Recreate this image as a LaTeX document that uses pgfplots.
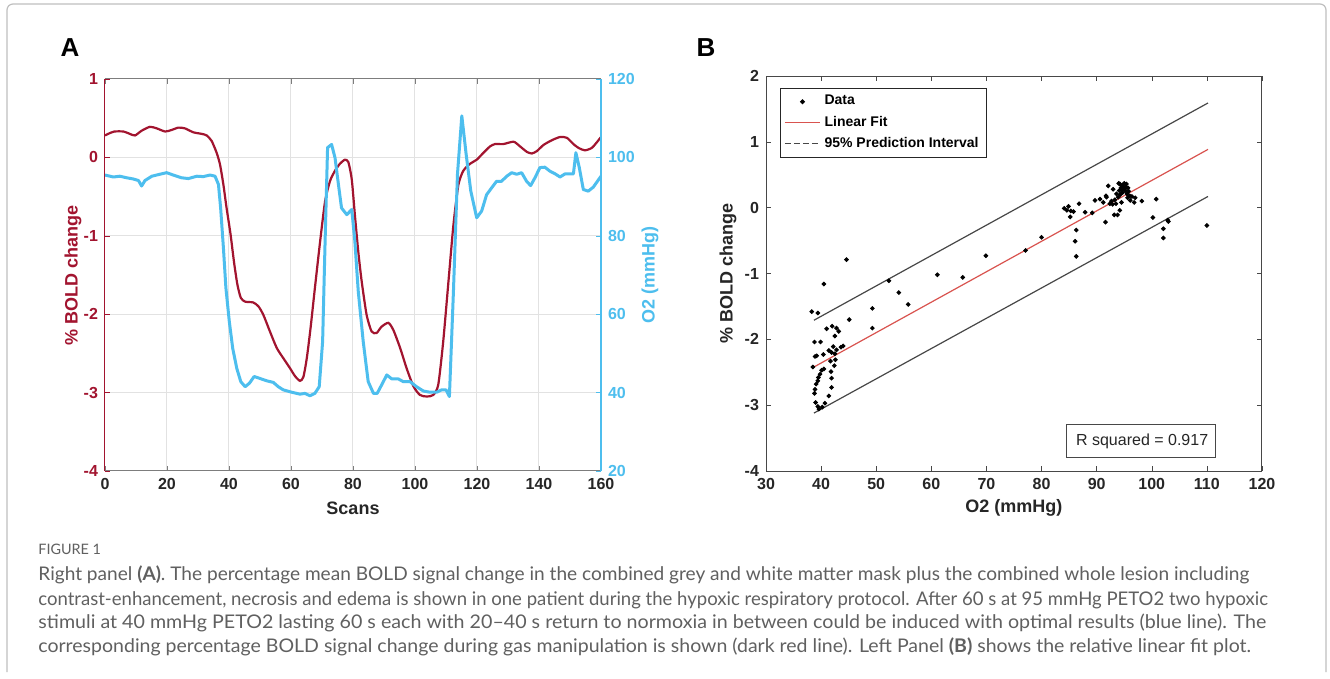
\documentclass[border=0pt]{standalone}
\usepackage{pgfplots}
\pgfplotsset{compat=1.18}
\usepackage{pgfplotstable}
\usepackage{fontspec}
\setmainfont{Liberation Sans}
\newfontfamily\capfont{Lato}
\definecolor{boldred}{HTML}{A2142F}
\definecolor{o2cyan}{HTML}{4DBEEE}
\definecolor{axgray}{HTML}{262626}
\definecolor{gridgray}{HTML}{E2E2E2}
\definecolor{fitred}{HTML}{D9534F}
\definecolor{capgray}{HTML}{606060}

\pgfplotstableread{
scan bold
0 0.28
1 0.30
3 0.33
6 0.33
8 0.30
9.7 0.28
11.8 0.34
14.5 0.39
16.7 0.37
19.4 0.33
21.5 0.35
23.7 0.38
25.8 0.37
28.5 0.32
31.2 0.30
32.8 0.28
34.4 0.21
36.0 0.06
37.1 -0.09
38.2 -0.35
39.2 -0.64
40.5 -0.98
41.6 -1.33
42.7 -1.62
43.8 -1.79
45.2 -1.84
47.8 -1.85
49.5 -1.90
51.1 -2.01
53.2 -2.22
55.4 -2.43
57.5 -2.56
59.7 -2.69
61.3 -2.79
62.9 -2.85
64.0 -2.80
65.1 -2.56
66.3 -2.18
67.7 -1.67
69.4 -1.07
71.0 -0.56
72.6 -0.30
74.2 -0.17
75.8 -0.08
77.4 -0.03
78.5 -0.06
79.6 -0.28
80.6 -0.73
81.7 -1.20
82.8 -1.58
84.4 -2.01
86.0 -2.22
87.6 -2.24
89.2 -2.16
91.4 -2.11
93.0 -2.20
95.2 -2.43
97.3 -2.69
99.5 -2.92
101.6 -3.03
103.8 -3.05
105.9 -3.03
107.5 -2.90
109.1 -2.35
110.8 -1.58
112.4 -0.86
114.0 -0.35
115.6 -0.17
117.8 -0.08
119.9 -0.03
122.1 0.06
124.2 0.14
125.8 0.17
128.5 0.17
131.8 0.20
133.9 0.14
136.1 0.07
137.7 0.05
139.3 0.08
141.5 0.16
144.2 0.22
146.8 0.26
149.0 0.25
151.1 0.17
152.8 0.12
154.8 0.09
157.0 0.12
158.6 0.19
160 0.26
}\boldtab

\pgfplotstableread{
scan o2
0 95.5
2.7 95.0
4.8 95.2
7.0 94.8
9.1 94.5
10.8 94.1
11.8 92.7
12.9 94.1
15.1 95.2
17.7 95.7
19.9 96.1
22.0 95.5
24.7 94.8
26.9 94.6
29.6 95.2
31.7 95.1
33.9 95.5
35.5 95.2
36.6 93.1
37.3 87.1
38.2 76.9
39.0 66.7
40.1 58.1
41.2 51.3
42.5 46.2
43.8 42.8
45.2 41.5
46.6 42.4
48.1 44.1
50.0 43.6
52.2 43.0
54.3 42.6
55.9 41.5
57.5 40.7
60.2 40.1
62.9 39.6
64.5 39.8
66.1 39.2
67.7 39.8
69.1 41.5
70.2 53.0
71.0 78.6
71.8 102.5
73.1 103.3
74.2 99.9
75.3 93.1
76.3 87.1
78.0 85.4
79.6 86.7
80.6 78.6
81.7 65.8
83.3 53.0
84.9 42.8
86.6 39.8
87.8 39.8
89.2 41.9
90.9 44.5
92.5 43.5
94.6 43.5
96.2 42.8
98.4 42.8
100.5 41.5
102.7 40.4
104.8 40.1
107.0 40.1
108.6 40.7
110.0 40.7
111.1 39.0
112.4 65.8
113.7 95.7
115.1 110.6
116.5 100.8
118.0 91.4
119.9 84.6
121.5 86.3
123.1 90.5
124.7 92.2
126.3 93.9
127.9 93.9
129.6 95.2
131.2 96.1
132.8 95.7
134.4 96.1
136.0 93.9
137.3 92.8
138.7 94.8
140.3 97.4
141.9 97.5
143.5 96.5
145.2 95.8
146.8 95.0
148.4 95.8
151.1 95.8
151.9 101.2
153.0 97.4
154.3 91.8
155.9 91.4
157.5 92.4
160 95.2
}\otab

\pgfplotstableread{
o2 bold
44.6 -0.79
40.5 -1.16
52.3 -1.11
38.3 -1.58
39.4 -1.60
49.3 -1.53
45.1 -1.70
49.3 -1.83
54.1 -1.29
55.8 -1.47
61.1 -1.02
65.7 -1.06
69.9 -0.73
77.1 -0.65
80.0 -0.45
41.0 -1.84
42.0 -1.80
42.8 -1.83
43.2 -1.88
42.5 -1.95
38.8 -2.04
39.9 -2.04
44.0 -2.10
43.6 -2.12
42.2 -2.11
41.4 -2.17
41.9 -2.20
42.5 -2.22
40.4 -2.23
38.9 -2.26
39.2 -2.25
42.8 -2.16
42.6 -2.31
41.7 -2.33
42.4 -2.40
38.5 -2.42
40.1 -2.47
40.5 -2.45
41.8 -2.49
39.8 -2.53
39.5 -2.58
39.4 -2.63
41.9 -2.59
39.1 -2.68
38.9 -2.76
41.9 -2.73
38.8 -2.82
41.4 -2.86
39.0 -2.96
39.4 -3.02
39.6 -3.06
40.2 -3.03
40.7 -2.97
84.1 -0.01
84.6 -0.04
84.9 0.02
85.3 -0.05
85.8 -0.06
85.2 -0.14
86.8 0.06
87.9 -0.07
89.2 -0.08
86.3 -0.34
86.1 -0.51
86.3 -0.74
89.7 0.11
90.6 0.13
91.2 0.08
91.6 -0.22
92.1 0.33
91.8 0.16
92.4 0.06
92.7 0.10
93.0 0.28
93.2 -0.11
93.8 -0.11
93.3 0.12
93.6 0.21
93.9 0.16
94.2 -0.04
94.2 0.36
94.6 0.33
94.9 0.31
95.2 0.26
95.5 0.21
94.7 0.23
94.0 0.37
95.0 0.37
95.3 0.32
95.8 0.25
96.0 0.18
96.4 0.17
97.0 0.15
96.8 0.08
98.2 0.10
100.2 -0.15
100.8 0.13
102.9 -0.19
103.0 -0.21
102.1 -0.32
102.1 -0.46
110.0 -0.27
91.7 0.18
94.1 0.26
93.5 0.06
94.5 0.08
95.6 0.15
96.1 0.11
94.4 0.30
94.8 0.35
95.1 0.29
95.4 0.36
94.6 0.27
95.7 0.30
94.3 0.20
92.9 0.05
}\scattab

\begin{document}
\begin{tikzpicture}[x=1pt,y=1pt]
\useasboundingbox (0,0) rectangle (665,-339.5);
\fill[white] (0,0) rectangle (665,-339.5);
\draw[black!25, line width=0.6pt, rounded corners=3pt] (3.5,-336) -- (3.5,-2) -- (663,-2) -- (663,-336);

% ---------- Panel A ----------
\begin{axis}[
  at={(52.5pt,-235.5pt)}, anchor=south west,
  scale only axis, width=248pt, height=196pt,
  xmin=0, xmax=160, ymin=-4, ymax=1,
  xtick={0,20,...,160}, ytick={-4,-3,...,1},
  axis x line*=box, axis y line*=left,
  x axis line style={axgray!60, line width=0.5pt},
  y axis line style={boldred, line width=0.5pt},
  tick align=inside, major tick length=2.5pt,
  xtick style={axgray!60}, ytick style={boldred},
  grid=major, grid style={gridgray, line width=0.5pt},
  /pgf/number format/assume math mode=true,
  ticklabel style={font=\bfseries\fontsize{8}{9}\selectfont},
  xticklabel style={text=axgray},
  yticklabel style={text=boldred},
  xlabel={Scans}, ylabel={\% BOLD change},
  xlabel style={font=\bfseries\fontsize{9}{10}\selectfont, text=axgray, at={(axis description cs:0.5,-0.094)}, anchor=center},
  ylabel style={font=\bfseries\fontsize{9}{10}\selectfont, text=boldred, at={(axis description cs:-0.0645,0.5)}, anchor=center},
  clip=false,
]
\addplot[boldred, line width=1.1pt, smooth, tension=0.4] table[x=scan, y=bold] {\boldtab};
\end{axis}
\begin{axis}[
  at={(52.5pt,-235.5pt)}, anchor=south west,
  scale only axis, width=248pt, height=196pt,
  xmin=0, xmax=160, ymin=20, ymax=120,
  ytick={20,40,...,120},
  axis x line=none, axis y line*=right,
  y axis line style={o2cyan, line width=0.6pt},
  tick align=inside, major tick length=2.5pt,
  ytick style={o2cyan},
  /pgf/number format/assume math mode=true,
  ticklabel style={font=\bfseries\fontsize{8}{9}\selectfont},
  yticklabel style={text=o2cyan},
  ylabel={O2 (mmHg)},
  ylabel style={font=\bfseries\fontsize{9}{10}\selectfont, text=o2cyan, at={(axis description cs:1.099,0.5)}, anchor=center},
]
\addplot[o2cyan, line width=1.5pt, line join=round] table[x=scan, y=o2] {\otab};
\end{axis}

% ---------- Panel B ----------
\begin{axis}[
  at={(383pt,-235.5pt)}, anchor=south west,
  scale only axis, width=248pt, height=197.5pt,
  xmin=30, xmax=120, ymin=-4, ymax=2,
  xtick={30,40,...,120}, ytick={-4,-3,...,2},
  axis line style={axgray!85, line width=0.5pt},
  tick align=inside, major tick length=2.5pt,
  tick style={axgray!85},
  /pgf/number format/assume math mode=true,
  ticklabel style={font=\bfseries\fontsize{8}{9}\selectfont, text=axgray},
  xlabel={O2 (mmHg)}, ylabel={\% BOLD change},
  xlabel style={font=\bfseries\fontsize{9}{10}\selectfont, text=axgray, at={(axis description cs:0.5,-0.0937)}, anchor=center},
  ylabel style={font=\bfseries\fontsize{9}{10}\selectfont, text=axgray, at={(axis description cs:-0.0766,0.5)}, anchor=center},
  legend style={at={(0.028,0.97)}, anchor=north west, draw=axgray, line width=0.5pt, fill=white,
    font=\bfseries\fontsize{7}{8.5}\selectfont, inner xsep=2pt, inner ysep=1.5pt, row sep=0pt,
    cells={anchor=west}},
  legend cell align=left,
]
\addplot[only marks, mark=*, mark size=0.95pt, black,
  legend image code/.code={\fill[black] (8.75pt,0pt) circle (0.95pt);}] table[x=o2, y=bold] {\scattab};
\addlegendentry{Data}
\addplot[fitred, line width=0.6pt,
  legend image code/.code={\draw[fitred, line width=0.6pt] (0pt,0pt) -- (17.5pt,0pt);}] coordinates {(38.7,-2.42) (110.2,0.885)};
\addlegendentry{Linear Fit}
\addplot[axgray!85, line width=0.6pt, forget plot] coordinates {(38.7,-1.71) (110.2,1.59)};
\addplot[axgray!85, line width=0.6pt, forget plot] coordinates {(38.7,-3.12) (110.2,0.17)};
\addlegendimage{legend image code/.code={\draw[axgray!85, line width=0.6pt, dash pattern=on 3pt off 1.5pt] (0pt,0pt) -- (17.5pt,0pt);}}
\addlegendentry{95\% Prediction Interval}
\draw[axgray!85, line width=0.5pt, fill=white] (axis cs:84.5,-3.29) rectangle (axis cs:111.6,-3.80);
\node[anchor=west, inner sep=0pt, font=\fontsize{8}{9}\selectfont, text=axgray] at (axis cs:86.2,-3.545) {R squared = 0.917};
\end{axis}

% panel letters
\node[font=\bfseries\fontsize{13}{14}\selectfont] at (35,-24) {A};
\node[font=\bfseries\fontsize{13}{14}\selectfont] at (353,-24) {B};

% caption
\begin{scope}[every node/.style={anchor=base west, inner sep=0pt, text=capgray}]
\node[font=\capfont\fontsize{7.2}{8}\selectfont] at (19,-277.3) {FIGURE 1};
\node[font=\capfont\fontsize{9.4}{11}\selectfont] at (19,-290.5) {\scalebox{1.015}[1]{Right panel \textbf{(A)}. The percentage mean BOLD signal change in the combined grey and white matter mask plus the combined whole lesion including}};
\node[font=\capfont\fontsize{9.4}{11}\selectfont] at (19,-302.5) {\scalebox{0.986}[1]{contrast-enhancement, necrosis and edema is shown in one patient during the hypoxic respiratory protocol. After 60 s at 95 mmHg PETO2 two hypoxic}};
\node[font=\capfont\fontsize{9.4}{11}\selectfont] at (19,-314.5) {\scalebox{1.045}[1]{stimuli at 40 mmHg PETO2 lasting 60 s each with 20–40 s return to normoxia in between could be induced with optimal results (blue line). The}};
\node[font=\capfont\fontsize{9.4}{11}\selectfont] at (19,-326.5) {\scalebox{1.038}[1]{corresponding percentage BOLD signal change during gas manipulation is shown (dark red line). Left Panel \textbf{(B)} shows the relative linear fit plot.}};
\end{scope}
\end{tikzpicture}
\end{document}
